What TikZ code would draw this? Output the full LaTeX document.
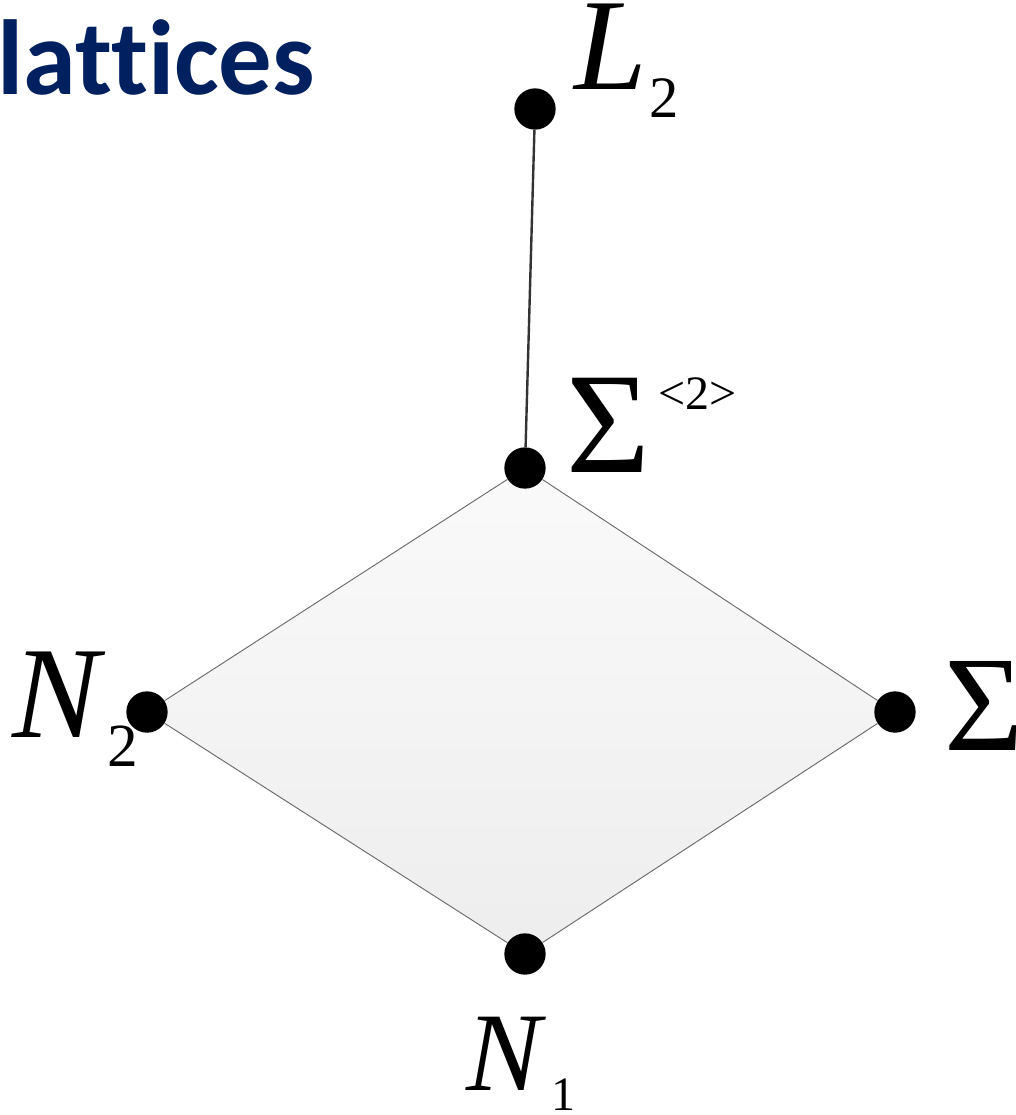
\documentclass[tikz,border=0pt]{standalone}
\usepackage{fontspec}
\setmainfont{Liberation Serif}
\newfontfamily\lblfont{Liberation Serif}
\newfontfamily\titlefont[Ligatures=NoCommon]{Carlito}
\definecolor{navy}{HTML}{002060}
\definecolor{edgegray}{HTML}{6A6A6A}
\begin{document}
\begin{tikzpicture}[x=0.75pt,y=-0.75pt,
  vdot/.style={circle,fill=black,inner sep=0pt,minimum size=31pt},
  lbl/.style={inner sep=0pt,anchor=base west,font=\lblfont},
  diamondedge/.style={draw=edgegray,line width=0.7pt},
  stem/.style={draw=black!80,line width=1.8pt}]
\useasboundingbox (0,0) rectangle (1015,1115);
% title
\node[inner sep=0pt,anchor=base west,text=navy] (title) at (-3,94) {\titlefont\bfseries\fontsize{80}{84}\selectfont lattices};
% vertex positions
\coordinate (pL2) at (535,109);
\coordinate (pS2) at (525,468);
\coordinate (pN2) at (147,712);
\coordinate (pS) at (895,712);
\coordinate (pN1) at (525,954);
% diamond fill
\shade[top color=white!98!black,bottom color=white!93!black] (pS2) -- (pN2) -- (pN1) -- (pS) -- cycle;
% vertices
\node[vdot] (L2) at (pL2) {};
\node[vdot] (S2) at (pS2) {};
\node[vdot] (N2) at (pN2) {};
\node[vdot] (S) at (pS) {};
\node[vdot] (N1) at (pN1) {};
% connectors
\draw[stem] (L2) -- (S2);
\draw[diamondedge] (S2) -- (N2);
\draw[diamondedge] (N2) -- (N1);
\draw[diamondedge] (N1) -- (S);
\draw[diamondedge] (S) -- (S2);
% labels
\node[lbl] (L2lab) at (574,89) {\lblfont\fontsize{98}{102}\selectfont\itshape L\kern2pt\raisebox{-21pt}{\upshape\fontsize{44}{48}\selectfont 2}};
\node[lbl] (S2lab) at (566,472) {\lblfont\fontsize{108}{112}\selectfont Σ\kern6pt\raisebox{47pt}{\fontsize{36}{40}\selectfont <2>}};
\node[lbl] (N2lab) at (12,737) {\lblfont\fontsize{98}{102}\selectfont\itshape N\kern6pt\raisebox{-22pt}{\upshape\fontsize{46}{50}\selectfont 2}};
\node[lbl] (Slab) at (944,750) {\lblfont\fontsize{102}{106}\selectfont Σ};
\node[lbl] (N1lab) at (466,1090) {\lblfont\fontsize{84}{88}\selectfont\itshape N\kern8pt\raisebox{-15pt}{\upshape\fontsize{36}{40}\selectfont 1}};
\end{tikzpicture}
\end{document}
